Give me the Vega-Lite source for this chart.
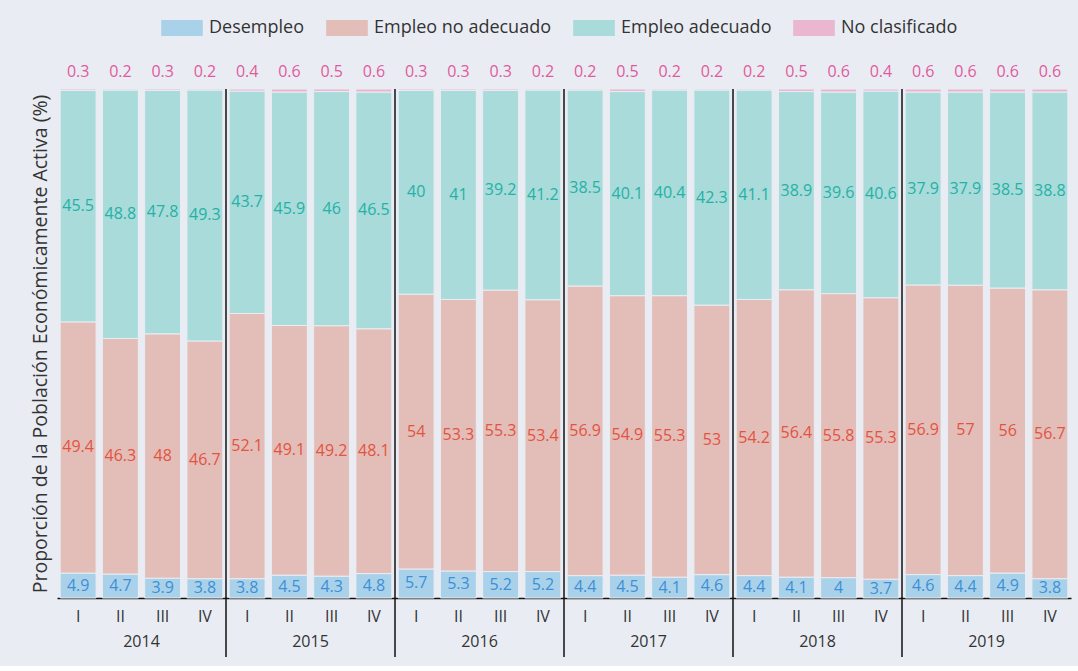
{
  "$schema": "https://vega.github.io/schema/vega-lite/v6.json",
  "background": "#e9edf3",
  "padding": {"left": 29, "top": 19, "right": 8, "bottom": 8},
  "width": 1014,
  "height": 509,
  "data": {"values": [
    {"anio": "2014", "trimestre": "I", "Desempleo": 4.9, "Empleo no adecuado": 49.4, "Empleo adecuado": 45.5, "No clasificado": 0.3},
    {"anio": "2014", "trimestre": "II", "Desempleo": 4.7, "Empleo no adecuado": 46.3, "Empleo adecuado": 48.8, "No clasificado": 0.2},
    {"anio": "2014", "trimestre": "III", "Desempleo": 3.9, "Empleo no adecuado": 48, "Empleo adecuado": 47.8, "No clasificado": 0.3},
    {"anio": "2014", "trimestre": "IV", "Desempleo": 3.8, "Empleo no adecuado": 46.7, "Empleo adecuado": 49.3, "No clasificado": 0.2},
    {"anio": "2015", "trimestre": "I", "Desempleo": 3.8, "Empleo no adecuado": 52.1, "Empleo adecuado": 43.7, "No clasificado": 0.4},
    {"anio": "2015", "trimestre": "II", "Desempleo": 4.5, "Empleo no adecuado": 49.1, "Empleo adecuado": 45.9, "No clasificado": 0.6},
    {"anio": "2015", "trimestre": "III", "Desempleo": 4.3, "Empleo no adecuado": 49.2, "Empleo adecuado": 46, "No clasificado": 0.5},
    {"anio": "2015", "trimestre": "IV", "Desempleo": 4.8, "Empleo no adecuado": 48.1, "Empleo adecuado": 46.5, "No clasificado": 0.6},
    {"anio": "2016", "trimestre": "I", "Desempleo": 5.7, "Empleo no adecuado": 54, "Empleo adecuado": 40, "No clasificado": 0.3},
    {"anio": "2016", "trimestre": "II", "Desempleo": 5.3, "Empleo no adecuado": 53.3, "Empleo adecuado": 41, "No clasificado": 0.3},
    {"anio": "2016", "trimestre": "III", "Desempleo": 5.2, "Empleo no adecuado": 55.3, "Empleo adecuado": 39.2, "No clasificado": 0.3},
    {"anio": "2016", "trimestre": "IV", "Desempleo": 5.2, "Empleo no adecuado": 53.4, "Empleo adecuado": 41.2, "No clasificado": 0.2},
    {"anio": "2017", "trimestre": "I", "Desempleo": 4.4, "Empleo no adecuado": 56.9, "Empleo adecuado": 38.5, "No clasificado": 0.2},
    {"anio": "2017", "trimestre": "II", "Desempleo": 4.5, "Empleo no adecuado": 54.9, "Empleo adecuado": 40.1, "No clasificado": 0.5},
    {"anio": "2017", "trimestre": "III", "Desempleo": 4.1, "Empleo no adecuado": 55.3, "Empleo adecuado": 40.4, "No clasificado": 0.2},
    {"anio": "2017", "trimestre": "IV", "Desempleo": 4.6, "Empleo no adecuado": 53, "Empleo adecuado": 42.3, "No clasificado": 0.2},
    {"anio": "2018", "trimestre": "I", "Desempleo": 4.4, "Empleo no adecuado": 54.2, "Empleo adecuado": 41.1, "No clasificado": 0.2},
    {"anio": "2018", "trimestre": "II", "Desempleo": 4.1, "Empleo no adecuado": 56.4, "Empleo adecuado": 38.9, "No clasificado": 0.5},
    {"anio": "2018", "trimestre": "III", "Desempleo": 4, "Empleo no adecuado": 55.8, "Empleo adecuado": 39.6, "No clasificado": 0.6},
    {"anio": "2018", "trimestre": "IV", "Desempleo": 3.7, "Empleo no adecuado": 55.3, "Empleo adecuado": 40.6, "No clasificado": 0.4},
    {"anio": "2019", "trimestre": "I", "Desempleo": 4.6, "Empleo no adecuado": 56.9, "Empleo adecuado": 37.9, "No clasificado": 0.6},
    {"anio": "2019", "trimestre": "II", "Desempleo": 4.4, "Empleo no adecuado": 57, "Empleo adecuado": 37.9, "No clasificado": 0.6},
    {"anio": "2019", "trimestre": "III", "Desempleo": 4.9, "Empleo no adecuado": 56, "Empleo adecuado": 38.5, "No clasificado": 0.6},
    {"anio": "2019", "trimestre": "IV", "Desempleo": 3.8, "Empleo no adecuado": 56.7, "Empleo adecuado": 38.8, "No clasificado": 0.6}
  ]},
  "transform": [
    {"fold": ["Desempleo", "Empleo no adecuado", "Empleo adecuado", "No clasificado"], "as": ["categoria", "valor"]},
    {"stack": "valor", "groupby": ["anio", "trimestre"], "offset": "normalize", "as": ["v0", "v1"]},
    {"calculate": "(datum.v0 + datum.v1) / 2", "as": "centro"}
  ],
  "encoding": {
    "x": {"field": "anio", "type": "nominal",
          "scale": {"paddingInner": 0, "paddingOuter": 0},
          "axis": {"title": null, "labelAngle": 0, "ticks": false, "tickSize": 0, "domainColor": "#111111", "domainWidth": 1.5, "labelFontSize": 16, "labelColor": "#333333", "labelPadding": 35}}
  },
  "layer": [
    {
      "mark": {"type": "bar", "stroke": "#e9edf3", "strokeWidth": 1},
      "encoding": {
        "xOffset": {"field": "trimestre", "type": "nominal",
                    "scale": {"domain": ["I", "II", "III", "IV"], "paddingInner": 0.15, "paddingOuter": 0.075}},
        "y": {"field": "v1", "type": "quantitative",
              "scale": {"domain": [0, 1], "nice": false},
              "axis": {"title": "Proporción de la Población Económicamente Activa (%)", "labels": false, "ticks": false, "grid": false, "domain": false, "titleFontSize": 19.5, "titleFontWeight": "normal", "titleColor": "#333333", "titlePadding": 7}},
        "y2": {"field": "v0"},
        "color": {"field": "categoria", "type": "nominal",
                  "scale": {"domain": ["Desempleo", "Empleo no adecuado", "Empleo adecuado", "No clasificado"], "range": ["#a9d2ea", "#e3bdb8", "#a8dbd9", "#eab6d0"]},
                  "legend": {"orient": "none", "legendX": 116, "legendY": -70, "direction": "horizontal", "columns": 4, "title": null,
                             "symbolType": "M-2.6,-1H2.6V1H-2.6Z", "symbolSize": 256, "symbolStrokeWidth": 0, "symbolOpacity": 1,
                             "labelFontSize": 18, "labelColor": "#333333", "labelOffset": 18, "labelLimit": 400, "columnPadding": 21, "padding": 0}}
      }
    },
    {
      "transform": [{"filter": "datum.anio != '2014' && datum.trimestre == 'I' && datum.categoria == 'Desempleo'"}],
      "mark": {"type": "rule", "color": "#111111", "strokeWidth": 1.5, "y2Offset": 59},
      "encoding": {
        "x": {"field": "anio", "type": "nominal", "bandPosition": 0},
        "y": {"datum": 1},
        "y2": {"datum": 0}
      }
    },
    {
      "transform": [{"filter": "datum.categoria != 'No clasificado'"}],
      "mark": {"type": "text", "fontSize": 16, "baseline": "middle"},
      "encoding": {
        "xOffset": {"field": "trimestre", "type": "nominal"},
        "y": {"field": "centro", "type": "quantitative"},
        "text": {"field": "valor", "type": "nominal"},
        "color": {
          "condition": [
            {"test": "datum.categoria == 'Desempleo'", "value": "#3d8fd6"},
            {"test": "datum.categoria == 'Empleo no adecuado'", "value": "#e2543f"}
          ],
          "value": "#25b1a7"
        }
      }
    },
    {
      "transform": [{"filter": "datum.categoria == 'No clasificado'"}],
      "mark": {"type": "text", "fontSize": 16, "baseline": "middle", "color": "#e25a9e", "yOffset": -17},
      "encoding": {
        "xOffset": {"field": "trimestre", "type": "nominal"},
        "y": {"datum": 1},
        "text": {"field": "valor", "type": "nominal"}
      }
    },
    {
      "transform": [{"filter": "datum.categoria == 'Desempleo'"}],
      "mark": {"type": "text", "fontSize": 16, "baseline": "middle", "color": "#333333", "yOffset": 19},
      "encoding": {
        "xOffset": {"field": "trimestre", "type": "nominal"},
        "y": {"datum": 0},
        "text": {"field": "trimestre", "type": "nominal"}
      }
    }
  ],
  "config": {
    "font": "Open Sans",
    "view": {"stroke": null}
  }
}
